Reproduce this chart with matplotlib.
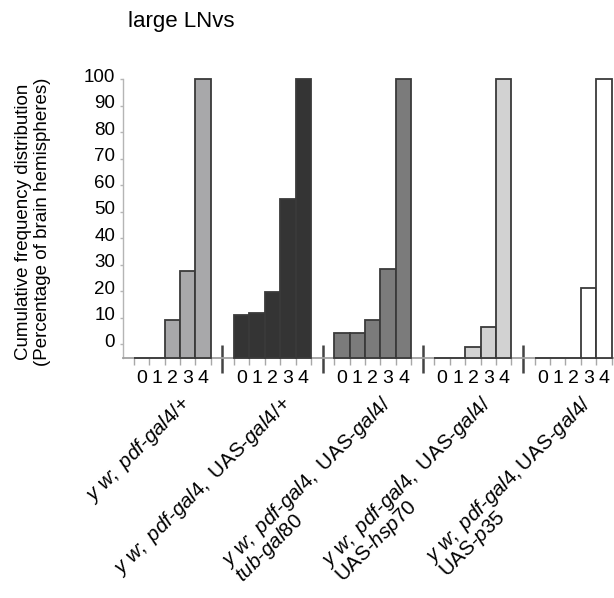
import numpy as np
import matplotlib
matplotlib.use("Agg")
import matplotlib.pyplot as plt
import matplotlib.transforms as mtransforms

plt.rcParams["font.family"] = ["Liberation Sans", "DejaVu Sans"]
plt.rcParams["mathtext.fontset"] = "custom"
plt.rcParams["mathtext.rm"] = "Liberation Sans"
plt.rcParams["mathtext.it"] = "Liberation Sans:italic"

# ---- data ----
bins = ["0", "1", "2", "3", "4"]
pdf_plus = [0, 0, 13.5, 31.3, 100]
uas_gal4 = [15.2, 15.9, 23.5, 56.9, 100]
tub_gal80 = [8.8, 8.8, 13.5, 31.9, 100]
uas_hsp70 = [0, 0, 3.7, 11.1, 100]
uas_p35 = [0, 0, 0, 24.9, 100]
series = [pdf_plus, uas_gal4, tub_gal80, uas_hsp70, uas_p35]

genotypes = [
    r"$\mathit{y\ w;\ pdf}$-$\mathit{gal4/{+}}$",
    r"$\mathit{y\ w;\ pdf}$-$\mathit{gal4,}$ UAS-$\mathit{gal4/{+}}$",
    r"$\mathit{y\ w;\ pdf}$-$\mathit{gal4,}$ UAS-$\mathit{gal4/}$" "\n" r"$\mathit{tub}$-$\mathit{gal80}$",
    r"$\mathit{y\ w;\ pdf}$-$\mathit{gal4,}$ UAS-$\mathit{gal4/}$" "\n" r"UAS-$\mathit{hsp70}$",
    r"$\mathit{y\ w;\ pdf}$-$\mathit{gal4,}$UAS-$\mathit{gal4/}$" "\n" r"UAS-$\mathit{p35}$",
]
ytick_labels = ["0", "10", "20", "30", "40", "50", "60", "70", "80", "90", "100"]
title = "large LNvs"
ylabel = "Cumulative frequency distribution\n(Percentage of brain hemispheres)"

fills = ["#a8a8aa", "#343434", "#7b7b7b", "#d2d2d2", "#ffffff"]
edge = "#3a3a3a"

# ---- figure ----
fig = plt.figure(figsize=(6.14, 5.98), dpi=100)
ax = fig.add_axes([123 / 614, 240.3 / 598, 1 - 123 / 614, 278.4 / 598])

period = 6.5
nb = len(bins)
centers_all, edges_all = [], []
for g, vals in enumerate(series):
    x = g * period + np.arange(nb)
    centers_all.extend(x)
    edges_all.extend(g * period + np.arange(nb + 1) - 0.5)
    ax.bar(x, vals, width=1.0, color=fills[g], edgecolor=edge, linewidth=1.3,
           clip_on=False, zorder=3)

ax.set_xlim(-1.2, 30.65)
ax.set_ylim(0, 100)

for s in ["top", "right"]:
    ax.spines[s].set_visible(False)
ax.spines["left"].set_color("#b5b5b5")
ax.spines["left"].set_linewidth(1.0)
ax.spines["bottom"].set_color("#a0a0a0")
ax.spines["bottom"].set_linewidth(1.3)

# x ticks: marks at bar edges, digit labels at bar centres
ax.set_xticks(edges_all)
ax.set_xticklabels([])
ax.tick_params(axis="x", which="major", direction="out", length=5, width=1.0,
               color="#a8a8a8")
ax.set_xticks(centers_all, minor=True)
ax.set_xticklabels(bins * len(series), minor=True, fontsize=14)
ax.tick_params(axis="x", which="minor", length=0, pad=8.5)

# y ticks
yt = np.linspace(100 / 21, 100, len(ytick_labels))
ax.set_yticks(yt)
ax.set_yticklabels(ytick_labels, fontsize=13.5)
ax.tick_params(axis="y", direction="out", length=2.2, width=1.0, color="#b5b5b5",
               pad=3.5)
off = mtransforms.ScaledTranslation(0, 3 / 72, fig.dpi_scale_trans)
for lbl in ax.get_yticklabels():
    lbl.set_transform(lbl.get_transform() + off)

# group separators
bt = mtransforms.blended_transform_factory(ax.transData, ax.transAxes)
for g in range(len(series) - 1):
    xs = g * period + nb - 0.5 + (period - nb) / 2
    ax.plot([xs, xs], [-0.055, 0.046], transform=bt, color="#444444", lw=1.8,
            clip_on=False, solid_capstyle="butt")

# genotype labels
for g, lab in enumerate(genotypes):
    xc = g * period + 2 + 0.45
    ax.text(xc, -0.125, lab, transform=bt, rotation=45, rotation_mode="anchor",
            ha="right", va="top", multialignment="left", fontsize=14.8,
            linespacing=0.85)

fig.text(128 / 614, 1 - 22 / 598, title, ha="left", va="center", fontsize=16)
fig.text(33 / 614, 1 - 222 / 598, ylabel, rotation=90, ha="center", va="center",
         multialignment="center", fontsize=13.5, linespacing=1.15)

fig.savefig("out.png", dpi=100)
